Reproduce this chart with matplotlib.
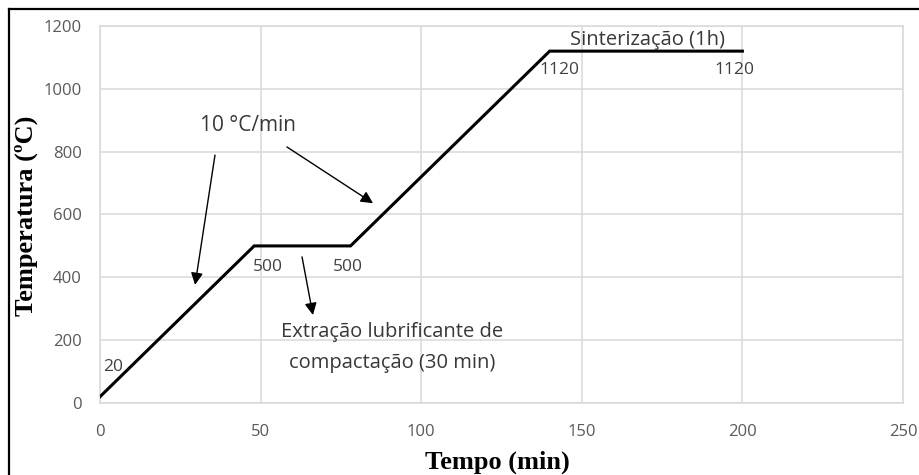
import matplotlib
matplotlib.use("Agg")
import matplotlib.pyplot as plt
from matplotlib.lines import Line2D

# Data
tempo = [0, 48, 78, 140, 200]
temperatura = [20, 500, 500, 1120, 1120]
point_labels = ["20", "500", "500", "1120", "1120"]
label_pos = [(4.0, 115), (52.3, 433), (77.2, 433), (142.9, 1060), (197.4, 1060)]
x_ticks = [0, 50, 100, 150, 200, 250]
y_ticks = [0, 200, 400, 600, 800, 1000, 1200]

W, H = 919, 475
fig = plt.figure(figsize=(W / 100, H / 100), dpi=100)
fig.patch.set_facecolor("white")
ax = fig.add_axes([100 / W, 72 / H, 803 / W, 377 / H])

grid_c = "#d9d9d9"
ax.plot(tempo, temperatura, color="black", lw=2.2, solid_joinstyle="miter", zorder=3)

ax.set_xlim(0, 250)
ax.set_ylim(0, 1200)
ax.set_xticks(x_ticks)
ax.set_yticks(y_ticks)
ax.grid(True, color=grid_c, lw=1.1)
ax.set_axisbelow(True)
for s in ax.spines.values():
    s.set_color(grid_c)
    s.set_linewidth(1.1)
ax.tick_params(axis="both", length=0, labelsize=12, labelcolor="#595959")
ax.tick_params(axis="y", pad=13)
ax.tick_params(axis="x", pad=15)
for lab in ax.get_xticklabels() + ax.get_yticklabels():
    lab.set_fontfamily("Open Sans")

# Point labels
for t, (px, py) in zip(point_labels, label_pos):
    ax.text(px, py, t, fontsize=12.5, color="#404040", family="Open Sans",
            ha="center", va="center", zorder=4)

# Annotations
txt_c = "#383838"
ax.text(46.1, 882, "10 °C/min", fontsize=15, color=txt_c, family="Open Sans",
        ha="center", va="center")
ax.text(170.3, 1156, "Sinterização (1h)", fontsize=14.5, color=txt_c, family="Open Sans",
        ha="center", va="center")
ax.text(90.9, 226, "Extração lubrificante de", fontsize=14.5, color=txt_c,
        family="Open Sans", ha="center", va="center")
ax.text(90.9, 127, "compactação (30 min)", fontsize=14.5, color=txt_c,
        family="Open Sans", ha="center", va="center")

arrows = [((35.8, 789), (29.6, 376)), ((58.2, 815), (85.0, 636)), ((62.9, 465), (66.3, 280))]
for start, end in arrows:
    ax.annotate("", xy=end, xytext=start,
                arrowprops=dict(arrowstyle="-|>,head_length=0.6,head_width=0.3",
                                color="black", lw=1.0, mutation_scale=12,
                                shrinkA=0, shrinkB=0))

# Axis labels
fig.text(26 / W, 1 - 216 / H, "Temperatura (ºC)", rotation=90, fontsize=19,
         family="Liberation Serif", weight="bold", ha="center", va="center")
fig.text(497 / W, 1 - 462 / H, "Tempo (min)", fontsize=19,
         family="Liberation Serif", weight="bold", ha="center", va="center")

# Outer frame
fig.add_artist(Line2D([9 / W, 9 / W], [-0.01, 1 - 9 / H], transform=fig.transFigure,
                      color="black", lw=1.6))
fig.add_artist(Line2D([9 / W, 1.01], [1 - 9 / H, 1 - 9 / H], transform=fig.transFigure,
                      color="black", lw=1.6))

fig.savefig("out.png", dpi=100, facecolor="white")
